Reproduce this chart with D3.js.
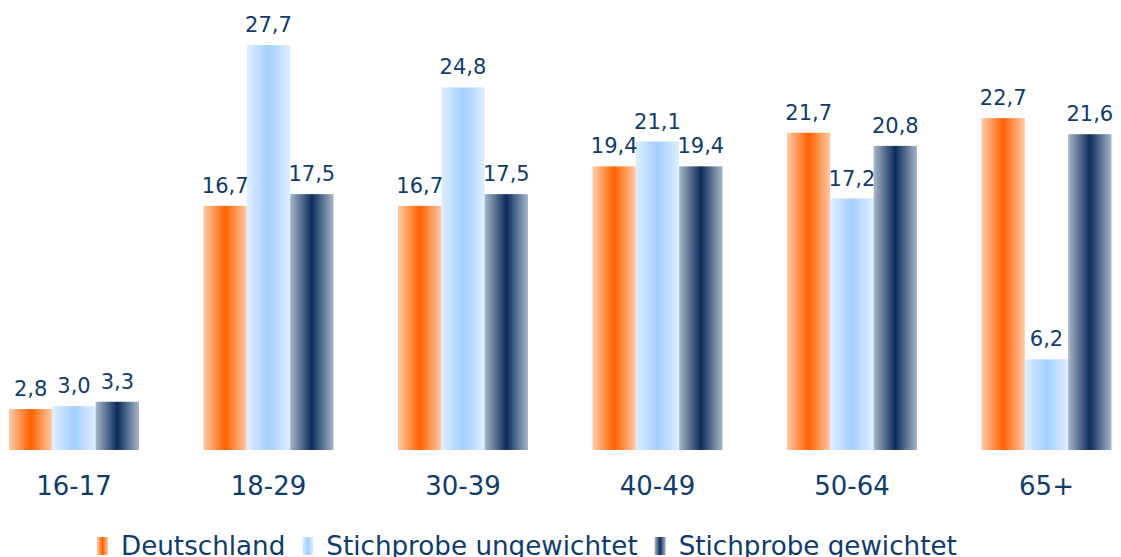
<!DOCTYPE html>
<html>
<head>
<meta charset="utf-8">
<script src="https://cdn.jsdelivr.net/npm/d3@7"></script>
<style>
  html, body { margin: 0; padding: 0; background: #fff; overflow: hidden; }
  text { font-family: "DejaVu Sans", Verdana, sans-serif; fill: #0f3c6b; }
</style>
</head>
<body>
<div id="chart"></div>
<script>
// data
var categories = ["16-17", "18-29", "30-39", "40-49", "50-64", "65+"];
var seriesNames = ["Deutschland", "Stichprobe ungewichtet", "Stichprobe gewichtet"];
var deutschland = [2.8, 16.7, 16.7, 19.4, 21.7, 22.7];
var ungewichtet = [3.0, 27.7, 24.8, 21.1, 17.2, 6.2];
var gewichtet = [3.3, 17.5, 17.5, 19.4, 20.8, 21.6];

var width = 1121, height = 557;
var baseY = 450;

var svg = d3.select("#chart").append("svg")
  .attr("width", width)
  .attr("height", height);

// gradients: light edges, strong centre
var grads = [
  { id: "g0", edge: "#ffcaa8", mid: "#ff6200" },
  { id: "g1", edge: "#deeeff", mid: "#a3cfff" },
  { id: "g2", edge: "#a7b7c8", mid: "#0c2c5c" }
];
var defs = svg.append("defs");
grads.forEach((g) => {
  var lg = defs.append("linearGradient").attr("id", g.id)
    .attr("x1", "0%").attr("x2", "100%").attr("y1", "0%").attr("y2", "0%");
  lg.append("stop").attr("offset", "0%").attr("stop-color", g.edge);
  lg.append("stop").attr("offset", "50%").attr("stop-color", g.mid);
  lg.append("stop").attr("offset", "100%").attr("stop-color", g.edge);
});

var data = categories.map((c, i) => ({
  cat: c,
  vals: [deutschland[i], ungewichtet[i], gewichtet[i]]
}));

/* SCALES */
var x = d3.scaleBand()
  .domain(categories)
  .range([9, 1111.5])
  .paddingInner(0.3316)
  .paddingOuter(0);
var xs = d3.scaleBand()
  .domain([0, 1, 2])
  .range([0, x.bandwidth()])
  .padding(0);
var y = d3.scaleLinear()
  .domain([0, 30])
  .range([baseY, baseY - 30 * 14.62]);

var fmt = (v) => v.toFixed(1).replace(".", ",");

/* BARS */
var groups = svg.append("g").attr("class", "bars")
  .selectAll("g")
  .data(data)
  .join("g")
  .attr("transform", (d) => `translate(${x(d.cat)},0)`);

groups.selectAll("rect")
  .data((d) => d.vals)
  .join("rect")
  .attr("x", (d, i) => xs(i))
  .attr("y", (d) => y(d))
  .attr("width", xs.bandwidth())
  .attr("height", (d) => y(0) - y(d))
  .attr("fill", (d, i) => `url(#g${i})`);

groups.selectAll("text")
  .data((d) => d.vals)
  .join("text")
  .attr("x", (d, i) => xs(i) + xs.bandwidth() / 2)
  .attr("y", (d) => y(d) - 13)
  .attr("text-anchor", "middle")
  .style("font-size", "21px")
  .text((d) => fmt(d));

/* X AXIS */
var xAxis = svg.append("g")
  .attr("class", "x_axis")
  .attr("transform", `translate(0, ${baseY})`)
  .call(d3.axisBottom(x).tickSize(0).tickPadding(27));
xAxis.select(".domain").remove();
xAxis.selectAll(".tick text")
  .style("font-size", "26px")
  .attr("fill", null)
  .attr("dy", "0.71em");

/* LEGEND (bottom, cut at the edge as in the original) */
var legend = svg.append("g").attr("class", "legend");
var lx = 97;
seriesNames.forEach((name, i) => {
  legend.append("rect")
    .attr("x", lx).attr("y", 537)
    .attr("width", 11).attr("height", 18)
    .attr("fill", `url(#g${i})`);
  var t = legend.append("text")
    .attr("x", lx + 24).attr("y", 555)
    .style("font-size", "26.2px")
    .text(name);
  lx += 24 + t.node().getComputedTextLength() + 17;
});
</script>
</body>
</html>
